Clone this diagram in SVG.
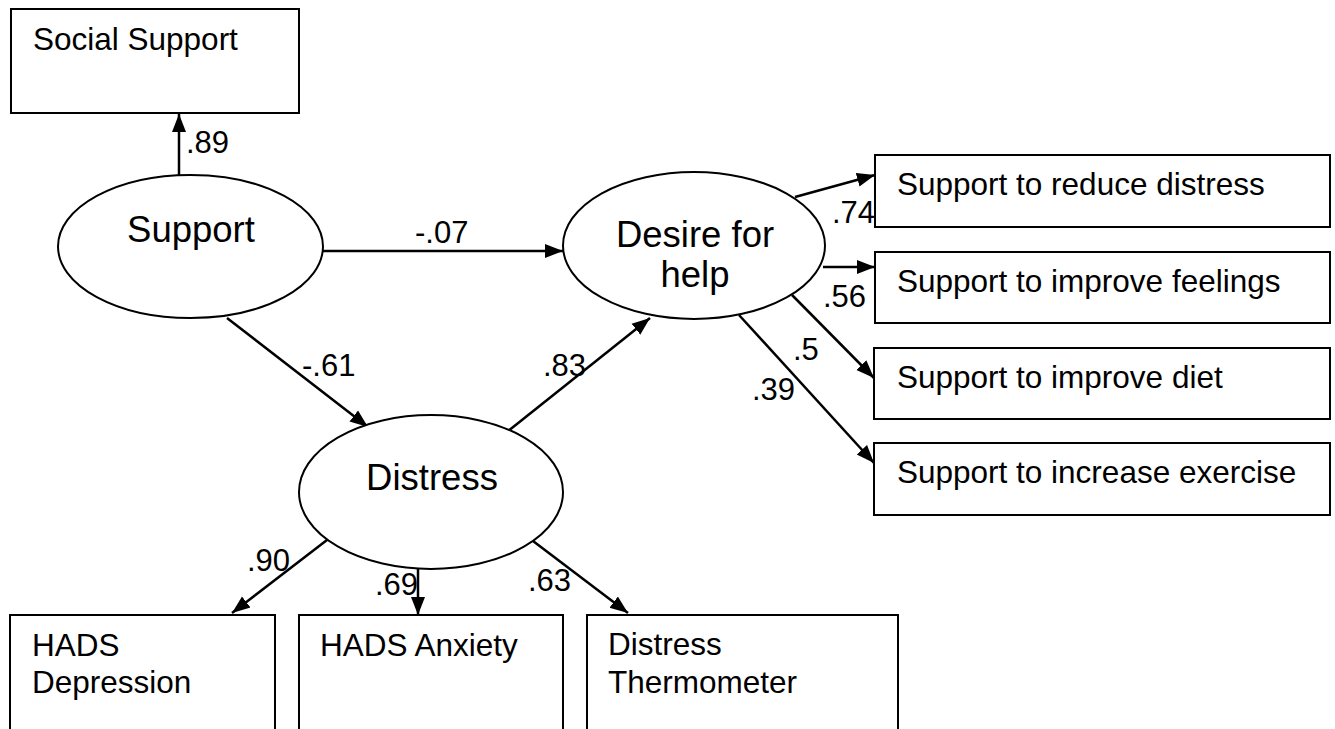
<svg xmlns="http://www.w3.org/2000/svg" width="1335" height="729" viewBox="0 0 1335 729">
  <defs>
    <marker id="arrow" markerUnits="userSpaceOnUse" markerWidth="20" markerHeight="16" refX="18" refY="8" orient="auto">
      <path d="M0,1 L18,8 L0,15 Z" fill="#000"/>
    </marker>
    <style>
      .box { fill: #fff; stroke: #000; stroke-width: 2; }
      .ell { fill: #fff; stroke: #000; stroke-width: 2; }
      .edge { stroke: #000; stroke-width: 2.5; fill: none; marker-end: url(#arrow); }
      .t { font-family: "Liberation Sans", Arial, sans-serif; font-size: 31.5px; fill: #000; }
      .lat { font-family: "Liberation Sans", Arial, sans-serif; font-size: 36.5px; fill: #000; text-anchor: middle; }
      .w { font-family: "Liberation Sans", Arial, sans-serif; font-size: 31px; fill: #000; }
    </style>
  </defs>
  <rect width="1335" height="729" fill="#fff"/>

  <!-- connectors and their path coefficients -->
  <g id="connectors">
    <line class="edge" x1="179" y1="175" x2="179" y2="114"/>
    <line class="edge" x1="323" y1="251" x2="563" y2="251"/>
    <line class="edge" x1="227" y1="318" x2="368" y2="427"/>
    <line class="edge" x1="507" y1="432" x2="650" y2="318"/>
    <line class="edge" x1="795" y1="197" x2="875" y2="175"/>
    <line class="edge" x1="823" y1="267" x2="875" y2="267"/>
    <line class="edge" x1="792" y1="295" x2="874" y2="378"/>
    <line class="edge" x1="739" y1="315" x2="874" y2="463"/>
    <line class="edge" x1="327" y1="540" x2="232" y2="613"/>
    <line class="edge" x1="418" y1="569" x2="418" y2="615"/>
    <line class="edge" x1="533" y1="541" x2="628" y2="613"/>

    <text class="w" x="186" y="153">.89</text>
    <text class="w" x="415" y="243">-.07</text>
    <text class="w" x="302" y="376">-.61</text>
    <text class="w" x="543" y="376">.83</text>
    <text class="w" x="832" y="223">.74</text>
    <text class="w" x="823" y="307">.56</text>
    <text class="w" x="793" y="360">.5</text>
    <text class="w" x="752" y="400">.39</text>
    <text class="w" x="247" y="571">.90</text>
    <text class="w" x="375" y="595">.69</text>
    <text class="w" x="528" y="591">.63</text>
  </g>

  <g id="social-support">
    <rect class="box" x="11" y="9" width="288" height="104"/>
    <text class="t" x="33" y="50">Social Support</text>
  </g>

  <g id="support">
    <ellipse class="ell" cx="190.5" cy="246.5" rx="132.5" ry="71.5"/>
    <text class="lat" x="191" y="242">Support</text>
  </g>

  <g id="desire-for-help">
    <ellipse class="ell" cx="694" cy="245.5" rx="131" ry="73.5"/>
    <text class="lat" x="695" y="247">Desire for</text>
    <text class="lat" x="695" y="287">help</text>
  </g>

  <g id="distress">
    <ellipse class="ell" cx="431" cy="492" rx="132" ry="77"/>
    <text class="lat" x="432" y="490">Distress</text>
  </g>

  <g id="reduce-distress">
    <rect class="box" x="875" y="155" width="455" height="72"/>
    <text class="t" x="897" y="195">Support to reduce distress</text>
  </g>

  <g id="improve-feelings">
    <rect class="box" x="875" y="252" width="455" height="71"/>
    <text class="t" x="897" y="292">Support to improve feelings</text>
  </g>

  <g id="improve-diet">
    <rect class="box" x="874" y="348" width="456" height="71"/>
    <text class="t" x="897" y="388">Support to improve diet</text>
  </g>

  <g id="increase-exercise">
    <rect class="box" x="874" y="443" width="456" height="72"/>
    <text class="t" x="897" y="483">Support to increase exercise</text>
  </g>

  <g id="hads-depression">
    <rect class="box" x="10" y="615" width="265" height="130"/>
    <text class="t" x="32" y="656">HADS</text>
    <text class="t" x="32" y="693">Depression</text>
  </g>

  <g id="hads-anxiety">
    <rect class="box" x="299" y="615" width="264" height="130"/>
    <text class="t" x="320" y="656">HADS Anxiety</text>
  </g>

  <g id="distress-thermometer">
    <rect class="box" x="587" y="615" width="311" height="130"/>
    <text class="t" x="608" y="655">Distress</text>
    <text class="t" x="608" y="693">Thermometer</text>
  </g>
</svg>
